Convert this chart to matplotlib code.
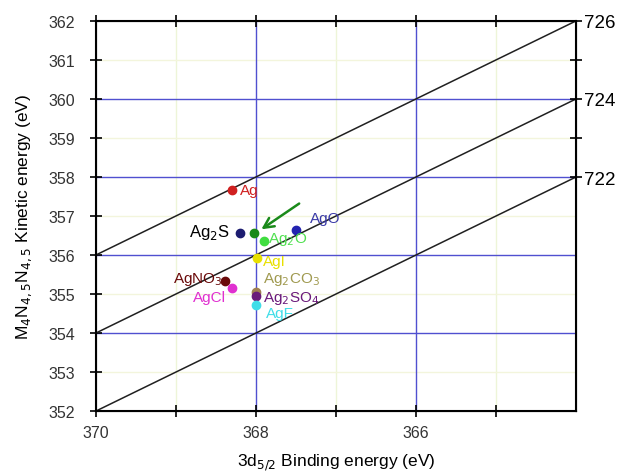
import numpy as np
import matplotlib
matplotlib.use("Agg")
import matplotlib.pyplot as plt

plt.rcParams['font.family'] = ['Liberation Sans', 'DejaVu Sans']

# compounds: binding energy (3d5/2), kinetic energy (MNN)
names = ['Ag', 'Ag2S', 'Ag2S*', 'AgO', 'Ag2O', 'AgI', 'AgNO3', 'AgCl', 'Ag2CO3', 'Ag2SO4', 'AgF']
be = [368.3, 368.2, 368.02, 367.5, 367.9, 367.99, 368.39, 368.3, 368.0, 368.0, 368.0]
ke = [357.67, 356.56, 356.56, 356.64, 356.36, 355.92, 355.33, 355.15, 355.05, 354.95, 354.72]
colors = ['#d02020', '#1c1c70', '#1a8a1a', '#2323b0', '#40dd40', '#e8e000',
          '#6a0a0a', '#e030d0', '#a08050', '#6a1a7a', '#40dde8']

# labels: text, x, y, ha, color, size
labels = [
    ('Ag', 368.2, 357.67, 'left', '#d02020', 11),
    ('Ag$_2$S', 368.33, 356.6, 'right', 'black', 12),
    ('AgO', 367.33, 356.95, 'left', '#3a3aa8', 11),
    ('Ag$_2$O', 367.85, 356.42, 'left', '#50e050', 11),
    ('AgI', 367.91, 355.85, 'left', '#e8e000', 11),
    ('AgNO$_3$', 368.42, 355.4, 'right', '#6a0a0a', 11),
    ('AgCl', 368.37, 354.92, 'right', '#e030d0', 11),
    ('Ag$_2$CO$_3$', 367.91, 355.4, 'left', '#a09a50', 11),
    ('Ag$_2$SO$_4$', 367.91, 354.9, 'left', '#6a1a7a', 11),
    ('AgF', 367.87, 354.52, 'left', '#40dde8', 11),
]

# modified Auger parameter lines (KE + BE = const)
auger = [722, 724, 726]
x_lim = (370, 364)
y_lim = (352, 362)

fig = plt.figure(figsize=(6.18, 4.77), dpi=100)
ax = fig.add_axes([0.155, 0.136, 0.777, 0.818])

# grid
for v in [368, 366]:
    ax.axvline(v, color='#5050d0', lw=1.0, zorder=1)
for v in [369, 367, 365]:
    ax.axvline(v, color='#eef5d8', lw=1.0, zorder=0)
for v in [354, 356, 358, 360]:
    ax.axhline(v, color='#5050d0', lw=1.0, zorder=1)
for v in [353, 355, 357, 359, 361]:
    ax.axhline(v, color='#f3f5dc', lw=1.0, zorder=0)

xs = np.array(x_lim)
for a in auger:
    ax.plot(xs, a - xs, color='#202020', lw=1.1, zorder=2)

for x, y, c in zip(be, ke, colors):
    ax.plot(x, y, 'o', ms=6, color=c, mec=c, zorder=4)

for t, x, y, ha, c, s in labels:
    ax.text(x, y, t, ha=ha, va='center', color=c, fontsize=s, zorder=5)

ax.annotate('', xy=(367.96, 356.62), xytext=(367.43, 357.36),
            arrowprops=dict(arrowstyle='->', color='#1a8a1a', lw=1.8,
                            mutation_scale=18), zorder=5)

ax.set_xlim(*x_lim)
ax.set_ylim(*y_lim)
ax.set_xticks([370, 368, 366])
ax.set_xticks([369, 367, 365], minor=True)
ax.set_yticks(np.arange(352, 363, 1))
ax.tick_params(which='both', direction='inout', length=8, width=1.2,
               labelsize=11.5, labelcolor='#333333', top=True)
ax.tick_params(axis='x', pad=6)
ax.tick_params(axis='y', pad=11)
for s in ax.spines.values():
    s.set_linewidth(1.5)

ax2 = ax.twinx()
ax2.set_ylim(*y_lim)
ax2.set_yticks([358, 360, 362])
ax2.set_yticklabels(['722', '724', '726'], fontsize=13.5)
ax2.set_yticks([359, 361], minor=True)
ax2.tick_params(which='both', direction='inout', length=8, width=1.2, pad=2)

ax.set_xlabel('3d$_{5/2}$ Binding energy (eV)', fontsize=12.5, labelpad=8)
ax.set_ylabel('M$_4$N$_{4,5}$N$_{4,5}$ Kinetic energy (eV)', fontsize=12.5, labelpad=10)

fig.savefig('out.png', dpi=100)
